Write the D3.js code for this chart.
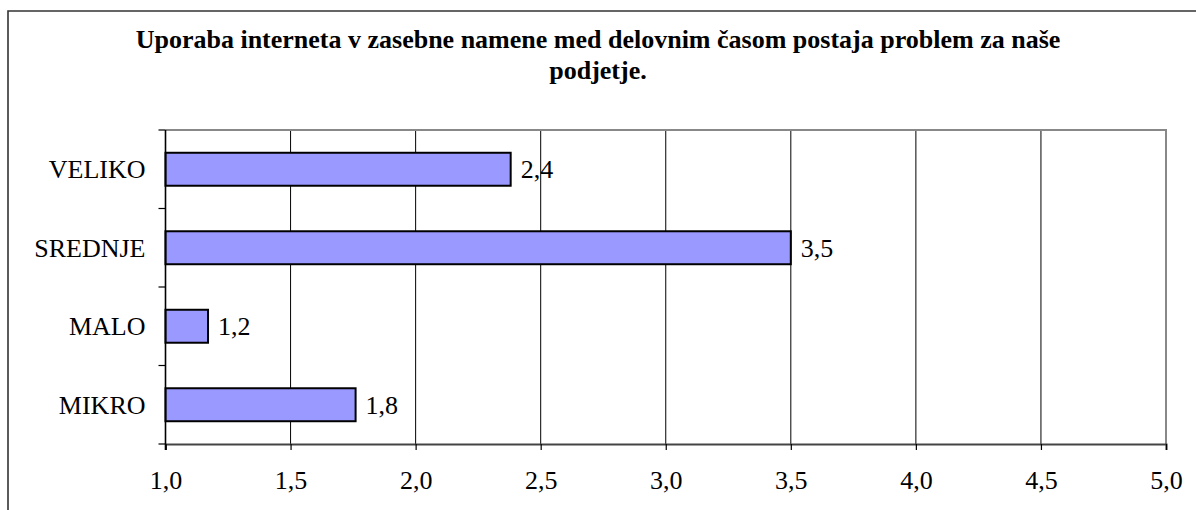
<!DOCTYPE html>
<html>
<head>
<meta charset="utf-8">
<script src="https://cdn.jsdelivr.net/npm/d3@7"></script>
<style>
  html, body { margin: 0; padding: 0; background: #fff; }
  svg { display: block; }
</style>
</head>
<body>
<svg id="chart" width="1196" height="510"></svg>
<script>
// Average agreement by company size (scale 1–5)
const categories = ["VELIKO", "SREDNJE", "MALO", "MIKRO"];
const values = [2.38, 3.5, 1.17, 1.76];
const xTicks = [1.0, 1.5, 2.0, 2.5, 3.0, 3.5, 4.0, 4.5, 5.0];
const titleLines = [
  "Uporaba interneta v zasebne namene med delovnim časom postaja problem za naše",
  "podjetje."
];

const FONT = "Liberation Serif";
const svg = d3.select("#chart");
const W = 1196, H = 510;
const plot = { left: 165.5, right: 1166, top: 130, bottom: 444 };

const fmt = v => d3.format(".1f")(v).replace(".", ",");

const x = d3.scaleLinear().domain([1, 5]).range([plot.left, plot.right]);
const y = d3.scaleBand().domain(categories)
  .range([plot.top, plot.bottom])
  .paddingInner(0.58).paddingOuter(0.29);

// outer frame (open on the right and bottom)
svg.append("path")
  .attr("d", `M8,${H + 5} V11 H${W + 5}`)
  .attr("fill", "none").attr("stroke", "#333").attr("stroke-width", 1.6);

// title
const title = svg.append("text")
  .attr("text-anchor", "middle")
  .style("font-family", FONT)
  .style("font-weight", "bold")
  .style("font-size", "26px");
titleLines.forEach((t, i) => {
  title.append("tspan").attr("x", 598).attr("y", 48 + i * 31).text(t);
});

// vertical gridlines
svg.append("g").selectAll("line")
  .data(xTicks.filter(t => t > 1 && t < 5))
  .join("line")
  .attr("x1", d => x(d)).attr("x2", d => x(d))
  .attr("y1", plot.top).attr("y2", plot.bottom)
  .attr("stroke", "#000").attr("stroke-width", 1);

// plot border top and right
svg.append("path")
  .attr("d", `M${plot.left},${plot.top} H${plot.right} V${plot.bottom}`)
  .attr("fill", "none").attr("stroke", "#888").attr("stroke-width", 2);

// bars
svg.append("g").selectAll("rect")
  .data(categories)
  .join("rect")
  .attr("x", x(1))
  .attr("y", d => y(d))
  .attr("width", (d, i) => x(values[i]) - x(1))
  .attr("height", y.bandwidth())
  .attr("fill", "#9999FF")
  .attr("stroke", "#000").attr("stroke-width", 2);

// value labels
svg.append("g").selectAll("text")
  .data(categories)
  .join("text")
  .attr("x", (d, i) => x(values[i]) + 10)
  .attr("y", d => y(d) + y.bandwidth() / 2)
  .attr("dy", "0.35em")
  .style("font-family", FONT)
  .style("font-size", "26px")
  .text((d, i) => fmt(values[i]));

// x axis
const xAxis = d3.axisBottom(x).tickValues(xTicks).tickFormat(fmt).tickSize(6).tickPadding(21);
const gx = svg.append("g").attr("transform", `translate(0,${plot.bottom})`).call(xAxis);
gx.attr("font-family", null).attr("font-size", null);
gx.select(".domain").attr("stroke", "#444").attr("stroke-width", 2);
gx.selectAll(".tick line").attr("stroke", "#000").attr("stroke-width", 1.2);
gx.selectAll(".tick text")
  .style("font-family", FONT)
  .style("font-size", "26px").attr("fill", "#000");

// y axis: category labels with ticks at band boundaries
const step = y.step();
const boundaries = d3.range(categories.length + 1).map(i => plot.top + i * step);
svg.append("g").selectAll("line")
  .data(boundaries)
  .join("line")
  .attr("x1", plot.left - 7).attr("x2", plot.left)
  .attr("y1", d => d).attr("y2", d => d)
  .attr("stroke", "#000").attr("stroke-width", 1.2);
svg.append("line")
  .attr("x1", plot.left).attr("x2", plot.left)
  .attr("y1", plot.top).attr("y2", plot.bottom + 6)
  .attr("stroke", "#000").attr("stroke-width", 1.6);
svg.append("g").selectAll("text")
  .data(categories)
  .join("text")
  .attr("x", plot.left - 20)
  .attr("y", d => y(d) + y.bandwidth() / 2)
  .attr("dy", "0.35em")
  .attr("text-anchor", "end")
  .style("font-family", FONT)
  .style("font-size", "26px")
  .text(d => d);
</script>
</body>
</html>
